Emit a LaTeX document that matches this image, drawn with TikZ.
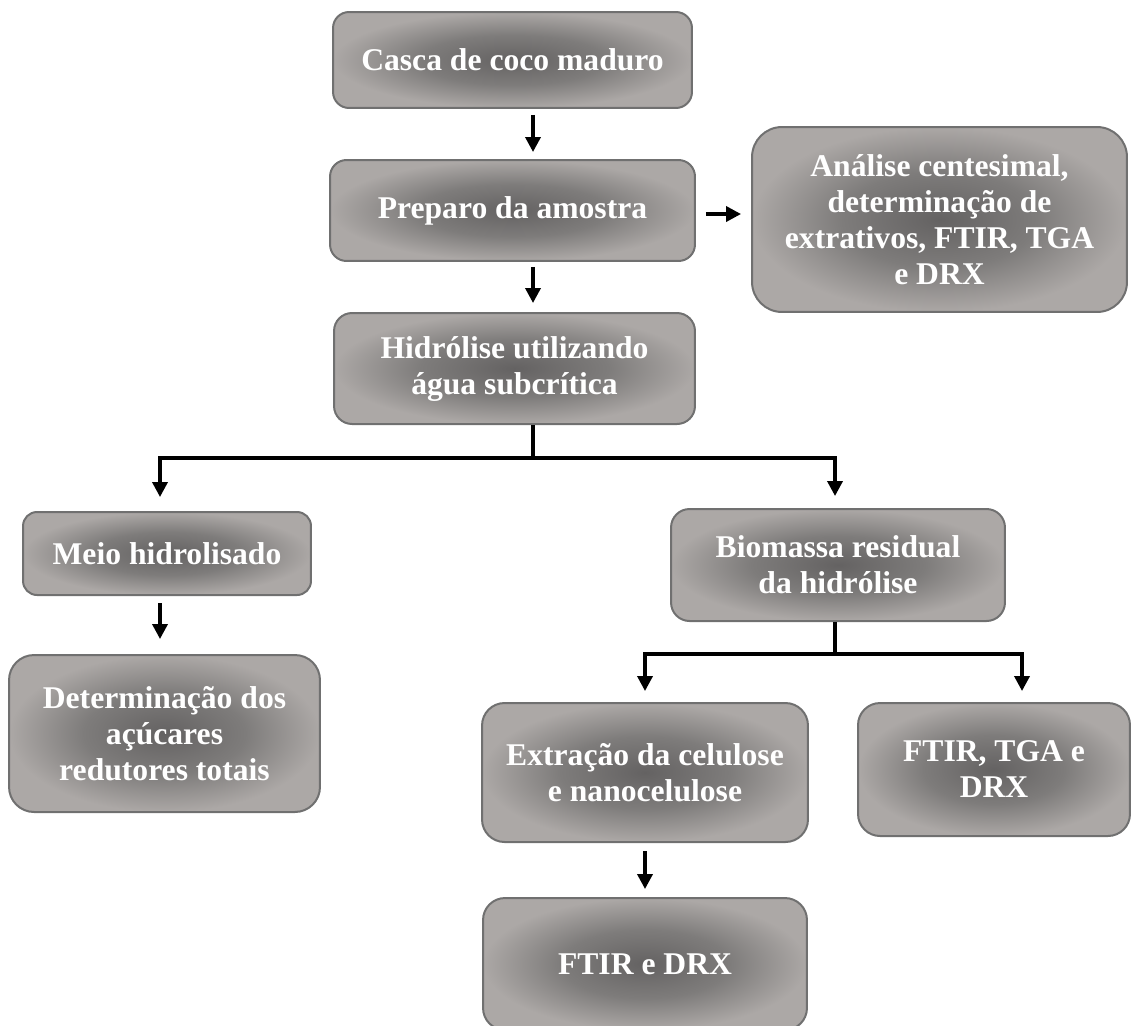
\documentclass[tikz,border=0pt]{standalone}
\usepackage{fontspec}
\setmainfont{Liberation Serif}
\usetikzlibrary{arrows.meta}

\definecolor{stagedark}{RGB}{100,98,98}
\definecolor{stagemid}{RGB}{126,124,123}
\definecolor{stagelight}{RGB}{172,168,166}
\definecolor{stageedge}{RGB}{112,112,112}

\pgfdeclareradialshading{stageshade}{\pgfpoint{0bp}{0bp}}{%
  color(0bp)=(stagedark); color(13bp)=(stagemid);
  color(25bp)=(stagelight); color(50bp)=(stagelight)}

\begin{document}
\begin{tikzpicture}[
  x=0.02cm, y=-0.02cm,
  font=\fontsize{18}{20.5}\selectfont\bfseries,
  >={Triangle[length=0.3cm, width=0.3cm]},
  stage/.style={draw=stageedge, line width=0.04cm, shading=stageshade,
    text=white, align=center, inner sep=0pt},
  arrow/.style={->, line width=0.07cm, black},
  link/.style={line width=0.07cm, black}
]
  \clip (0,0) rectangle (1131,1025);

  % main column
  \node[stage, minimum width=7.18cm, minimum height=1.92cm, rounded corners=0.32cm]
    (casca) at (512.5,60) {Casca de coco maduro};
  \node[stage, minimum width=7.30cm, minimum height=2.02cm, rounded corners=0.33cm]
    (preparo) at (512.5,210.5) {Preparo da amostra};
  \node[stage, minimum width=7.50cm, minimum height=3.70cm, rounded corners=0.6cm]
    (analise) at (939.5,219.5) {An\'alise centesimal,\\ determina\c{c}\~ao de\\
    extrativos, FTIR, TGA\\ e DRX};
  \node[stage, minimum width=7.22cm, minimum height=2.22cm, rounded corners=0.36cm]
    (hidrolise) at (514.5,368.5) {Hidr\'olise utilizando\\ \'agua subcr\'itica};

  % left branch
  \node[stage, minimum width=5.76cm, minimum height=1.66cm, rounded corners=0.28cm]
    (meio) at (167,553.5) {Meio hidrolisado};
  \node[stage, minimum width=6.22cm, minimum height=3.14cm, rounded corners=0.5cm]
    (determinacao) at (164.5,733.5) {Determina\c{c}\~ao dos\\ a\c{c}\'ucares\\
    redutores totais};

  % right branch
  \node[stage, minimum width=6.68cm, minimum height=2.24cm, rounded corners=0.37cm]
    (biomassa) at (838,565) {Biomassa residual\\ da hidr\'olise};
  \node[stage, minimum width=6.52cm, minimum height=2.78cm, rounded corners=0.45cm]
    (extracao) at (645,772.5) {Extra\c{c}\~ao da celulose\\ e nanocelulose};
  \node[stage, minimum width=5.44cm, minimum height=2.66cm, rounded corners=0.44cm]
    (ftirtga) at (994,769.5) {FTIR, TGA e\\ DRX};
  \node[stage, minimum width=6.48cm, minimum height=2.64cm, rounded corners=0.44cm]
    (ftirdrx) at (645,964) {FTIR e DRX};

  % connectors
  \coordinate (spine) at (533,0);
  \coordinate (side) at (0,214);
  \coordinate (fork1) at (533,458);
  \coordinate (left1) at (160,458);
  \coordinate (right1) at (835,458);
  \coordinate (fork2) at (835,654);
  \coordinate (left2) at (645,654);
  \coordinate (right2) at (1022,654);

  \draw[arrow, shorten <=0.12cm, shorten >=0.14cm] (casca.south -| spine) -- (preparo.north -| spine);
  \draw[arrow, shorten <=0.1cm, shorten >=0.18cm] (preparo.south -| spine) -- (hidrolise.north -| spine);
  \draw[arrow, shorten <=0.2cm, shorten >=0.2cm] (preparo.east |- side) -- (analise.west |- side);

  \draw[link] (hidrolise.south -| fork1) -- (fork1);
  \draw[arrow, shorten >=0.28cm] (fork1) -| (meio.north -| left1);
  \draw[arrow, shorten >=0.24cm] (fork1) -| (biomassa.north -| right1);
  \draw[arrow, shorten <=0.14cm, shorten >=0.3cm] (meio.south -| left1) -- (determinacao.north -| left1);

  \draw[link] (biomassa.south -| fork2) -- (fork2);
  \draw[arrow, shorten >=0.22cm] (fork2) -| (extracao.north -| left2);
  \draw[arrow, shorten >=0.22cm] (fork2) -| (ftirtga.north -| right2);
  \draw[arrow, shorten <=0.16cm, shorten >=0.16cm] (extracao.south) -- (ftirdrx.north);
\end{tikzpicture}
\end{document}
